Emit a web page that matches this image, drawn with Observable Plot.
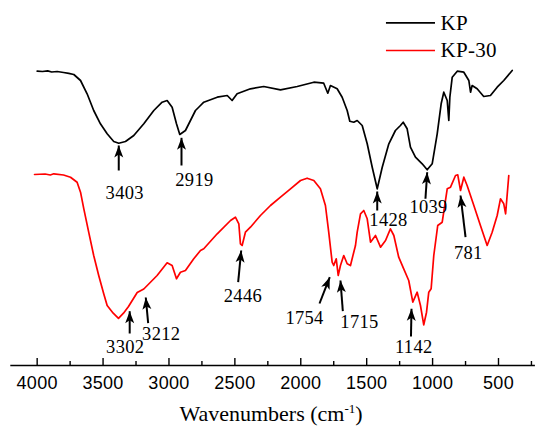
<!DOCTYPE html>
<html>
<head>
<meta charset="utf-8">
<script src="https://cdn.jsdelivr.net/npm/d3@7"></script>
<script src="https://cdn.jsdelivr.net/npm/@observablehq/plot@0.6"></script>
<style>
  body { margin: 0; background: #fff; }
  #chart svg { display: block; }
</style>
</head>
<body>
<div id="chart"></div>
<script>
// ---- KP spectrum (wavenumber cm-1, relative transmittance) ----
const kpWave = [4000,3960,3920,3890,3848,3800,3760,3722,3671,3621,3571,3520,3469,3419,3381,3330,3267,3191,3115,3052,3014,2976,2943,2918,2875,2837,2799,2761,2736,2634,2558,2521,2483,2382,2281,2154,2027,1901,1826,1795,1775,1724,1686,1648,1628,1598,1572,1534,1496,1458,1420,1382,1332,1282,1244,1223,1193,1168,1130,1079,1041,1003,965,935,915,889,877,869,851,813,763,725,712,700,662,612,561,510,460,396];
const kpT    = [294.3,294.0,294.6,293.5,294.0,293.0,292.2,291.0,285.0,271.7,255.0,241.7,231.7,224.0,222.3,224.0,230.0,241.7,255.0,263.3,265.0,258.3,241.7,231.0,235.0,245.0,255.0,260.0,263.3,268.3,270.0,265.0,271.7,276.7,279.0,275.7,279.0,283.3,282.3,272.3,280.0,276.7,268.3,255.0,244.3,243.3,245.0,240.0,221.7,198.3,176.7,198.3,221.7,235.0,240.0,243.3,236.7,218.3,208.3,201.7,195.7,201.7,231.7,261.7,273.3,265.0,245.0,268.3,288.3,294.3,293.3,285.0,273.3,280.0,276.7,269.0,270.0,278.3,285.0,295.0];

// ---- KP-30 spectrum ----
const kp30Wave = [4020,3940,3900,3874,3800,3747,3697,3671,3646,3609,3571,3533,3495,3469,3423,3383,3345,3307,3241,3191,3090,3014,2976,2943,2913,2875,2812,2761,2736,2634,2533,2496,2470,2458,2445,2420,2382,2306,2230,2154,2078,2002,1952,1901,1851,1813,1788,1762,1750,1731,1716,1699,1674,1648,1623,1598,1585,1572,1547,1522,1496,1471,1433,1395,1357,1320,1294,1257,1219,1181,1150,1117,1092,1067,1046,1029,1011,991,961,927,889,864,826,809,788,763,738,687,637,586,548,510,485,460,446,422];
const kp30T    = [191.0,191.5,190.5,191.7,190.5,188.3,183.3,173.3,156.7,133.3,110.0,90.0,71.7,60.0,52.3,47.2,52.3,59.0,73.0,76.5,90.0,102.7,100.0,86.7,93.3,95.0,106.7,115.0,116.7,131.7,145.0,148.3,141.7,121.7,120.0,133.3,138.3,150.0,160.0,168.3,176.7,185.0,187.3,185.0,176.7,160.0,133.3,103.3,100.0,106.7,90.0,100.0,110.0,101.7,100.0,113.3,120.0,133.3,151.7,155.0,146.7,123.3,130.0,118.3,125.0,136.7,130.0,108.3,96.7,85.0,63.3,73.3,60.0,40.7,53.3,73.3,76.7,110.0,140.0,143.3,176.7,178.3,190.0,190.7,175.0,188.3,180.0,160.0,140.0,120.0,133.3,150.0,166.7,161.7,151.7,190.0];

// ---- peak annotations ----
const peakLabels   = ["3403","2919","1428","1039","781","3302","3212","2446","1754","1715","1142"];
const labelWave    = [3336,2807,1335,1031,729,3332,3059,2439,1972,1555,1143];
const labelT       = [172.5,185,145,158,112.5,18,31.5,69.2,47.5,43.2,18.5];
const arrowTailWave= [3381,2905,1420,1054,750,3298,3158,2475,1858,1681,1164];
const arrowTailT   = [195,200,155,166.7,128.3,32,42.4,83.3,62,54.3,29];
const arrowTipWave = [3381,2905,1420,1041,788,3298,3176,2452,1780,1699,1160];
const arrowTipT    = [220,227.7,174,193.3,170,54.3,68,115,88.3,85,56.7];

// ---- axis ticks ----
const majorTicks = [4000,3500,3000,2500,2000,1500,1000,500];
const minorTicks = [3750,3250,2750,2250,1750,1250,750,250];

// ---- legend ----
const seriesNames  = ["KP","KP-30"];
const seriesColors = ["#000000","#ff0000"];

const kp   = kpWave.map((w,i) => ({w, t: kpT[i]}));
const kp30 = kp30Wave.map((w,i) => ({w, t: kp30T[i]}));
const ann  = peakLabels.map((label,i) => ({
  label, lx: labelWave[i], ly: labelT[i],
  x1: arrowTailWave[i], y1: arrowTailT[i], x2: arrowTipWave[i], y2: arrowTipT[i]
}));
const legend = seriesNames.map((name,i) => ({name, color: seriesColors[i], t: [342.7, 315][i]}));

const serif = "'Liberation Serif', 'Times New Roman', serif";
const sans  = "'Liberation Sans', Arial, sans-serif";

const stealth = (color) => {
  const ns = "http://www.w3.org/2000/svg";
  const m = document.createElementNS(ns, "marker");
  m.setAttribute("viewBox", "-13 -5 14 10");
  m.setAttribute("markerUnits", "userSpaceOnUse");
  m.setAttribute("markerWidth", 14);
  m.setAttribute("markerHeight", 10);
  m.setAttribute("orient", "auto");
  const p = document.createElementNS(ns, "path");
  p.setAttribute("d", "M0,0L-12,-4.5L-9,0L-12,4.5Z");
  p.setAttribute("fill", color);
  p.setAttribute("stroke", "none");
  m.appendChild(p);
  return m;
};

const chart = Plot.plot({
  width: 536,
  height: 427,
  marginLeft: 10.3,
  marginRight: 1.1,
  marginTop: 0,
  marginBottom: 62,
  style: {background: "#fff", fontFamily: sans, fontSize: "18px", color: "#000", overflow: "visible", letterSpacing: "0.3px"},
  x: {domain: [4200, 220]},
  y: {domain: [0, 365], axis: null},
  marks: [
    Plot.ruleY([0], {stroke: "#000", strokeWidth: 1.4}),
    Plot.ruleX(majorTicks, {y1: 0, y2: 7, stroke: "#000", strokeWidth: 1.4}),
    Plot.ruleX(minorTicks, {y1: 0, y2: 4, stroke: "#000", strokeWidth: 1.4}),
    Plot.axisX({ticks: majorTicks, tickSize: 0, tickPadding: 10.5, tickFormat: d => String(d), label: null}),
    Plot.line(kp,   {x: "w", y: "t", stroke: "#000", strokeWidth: 1.7, curve: "linear"}),
    Plot.line(kp30, {x: "w", y: "t", stroke: "#ff0000", strokeWidth: 1.7, curve: "linear"}),
    Plot.link(ann, {x1: "x1", y1: "y1", x2: "x2", y2: "y2", stroke: "#000", strokeWidth: 2, markerEnd: stealth}),
    Plot.text(ann, {x: "lx", y: "ly", text: "label", fontFamily: serif, fontSize: 18.5, fill: "#000"}),
    Plot.ruleY(legend, {y: "t", x1: 1350, x2: 978, stroke: "color", strokeWidth: 1.7}),
    Plot.text(legend, {y: "t", x: 940, text: "name", textAnchor: "start", fontFamily: serif, fontSize: 21, fill: "#000"})
  ]
});

const svg = d3.select(chart);
const title = svg.append("text")
  .attr("x", 271).attr("y", 421)
  .attr("text-anchor", "middle")
  .attr("font-family", serif)
  .attr("font-size", 22)
  .attr("letter-spacing", "0")
  .attr("fill", "#000");
title.append("tspan").text("Wavenumbers (cm");
title.append("tspan").attr("dy", -8).attr("font-size", 13).text("-1");
title.append("tspan").attr("dy", 8).text(")");

document.getElementById("chart").appendChild(chart);
</script>
</body>
</html>
